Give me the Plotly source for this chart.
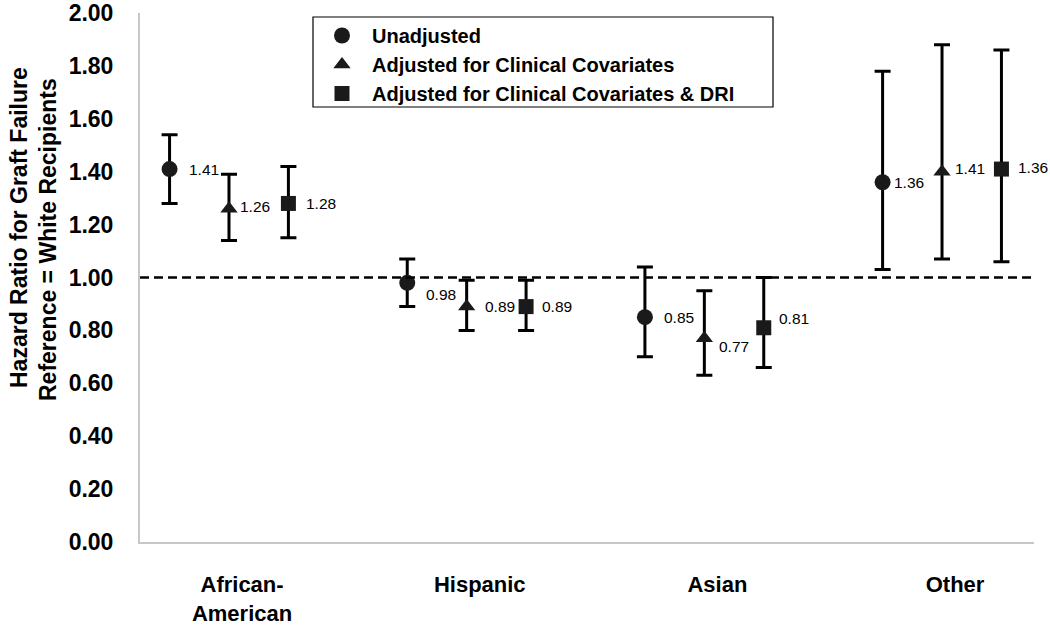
import plotly.graph_objects as go

categories = ["African-<br>American", "Hispanic", "Asian", "Other"]
series_names = ["Unadjusted", "Adjusted for Clinical Covariates", "Adjusted for Clinical Covariates & DRI"]

unadj_hr = [1.41, 0.98, 0.85, 1.36]
unadj_lo = [1.28, 0.89, 0.70, 1.03]
unadj_hi = [1.54, 1.07, 1.04, 1.78]
unadj_lab = ["1.41", "0.98", "0.85", "1.36"]

clin_hr = [1.26, 0.89, 0.77, 1.40]
clin_lo = [1.14, 0.80, 0.63, 1.07]
clin_hi = [1.39, 0.99, 0.95, 1.88]
clin_lab = ["1.26", "0.89", "0.77", "1.41"]

dri_hr = [1.28, 0.89, 0.81, 1.41]
dri_lo = [1.15, 0.80, 0.66, 1.06]
dri_hi = [1.42, 0.99, 1.00, 1.86]
dri_lab = ["1.28", "0.89", "0.81", "1.36"]

y_ticks = [0, 0.2, 0.4, 0.6, 0.8, 1.0, 1.2, 1.4, 1.6, 1.8, 2.0]
reference_hr = 1.0

# ---- styling ----
FONT = "Liberation Sans, Arial, sans-serif"
offsets = [-0.25, 0.0, 0.25]
symbols = ["circle", "triangle-up", "square"]
marker_sizes = [16, 15, 15]
label_xshift = [[19, 19, 19, 11], [11, 18, 15, 13], [18, 16, 15, 17]]
label_yshift = [[0, -12, 0, 0], [2, 0, -8, 3], [0, 0, 9, 2]]
series = [
    (unadj_hr, unadj_lo, unadj_hi, unadj_lab),
    (clin_hr, clin_lo, clin_hi, clin_lab),
    (dri_hr, dri_lo, dri_hi, dri_lab),
]

fig = go.Figure()
base_x = list(range(1, len(categories) + 1))
annotations = []
for k, (hr, lo, hi, lab) in enumerate(series):
    xs = [b + offsets[k] for b in base_x]
    fig.add_trace(go.Scatter(
        x=xs, y=hr, mode="markers", name=series_names[k],
        marker=dict(symbol=symbols[k], size=marker_sizes[k], color="#1a1a1a"),
        error_y=dict(type="data", symmetric=False,
                     array=[h - v for h, v in zip(hi, hr)],
                     arrayminus=[v - l for v, l in zip(hr, lo)],
                     color="black", thickness=3, width=8),
        cliponaxis=False, hoverinfo="skip",
    ))
    for i, (xv, yv, t) in enumerate(zip(xs, hr, lab)):
        annotations.append(dict(
            x=xv, y=yv, xref="x", yref="y", text=t, showarrow=False,
            xanchor="left", yanchor="middle",
            xshift=label_xshift[k][i] - 2, yshift=label_yshift[k][i],
            font=dict(family=FONT, size=15.5, color="black"),
        ))

# y axis title as two separately placed lines
annotations.append(dict(
    text="Hazard Ratio for Graft Failure", textangle=-90, showarrow=False,
    xref="paper", yref="paper", x=(19 - 140) / 894, y=(542 - 228) / 529,
    xanchor="center", yanchor="middle",
    font=dict(family=FONT, size=23, color="black", weight="bold")))
annotations.append(dict(
    text="Reference = White Recipients", textangle=-90, showarrow=False,
    xref="paper", yref="paper", x=(48 - 140) / 894, y=(542 - 240) / 529,
    xanchor="center", yanchor="middle",
    font=dict(family=FONT, size=23, color="black", weight="bold")))

shapes = [
    dict(type="line", xref="paper", yref="y", x0=0, x1=1,
         y0=reference_hr, y1=reference_hr,
         line=dict(color="black", width=2.5, dash="9px,5px")),
    dict(type="rect", xref="paper", yref="paper",
         x0=(313 - 140) / 894, x1=(773 - 140) / 894,
         y0=(542 - 107) / 529, y1=(542 - 17) / 529,
         line=dict(color="black", width=1.2), fillcolor="rgba(0,0,0,0)"),
]

fig.update_layout(
    width=1050, height=626,
    margin=dict(l=140, r=16, t=13, b=84),
    plot_bgcolor="white", paper_bgcolor="white",
    font=dict(family=FONT, color="black"),
    annotations=annotations, shapes=shapes,
    legend=dict(x=(312 - 140) / 894, y=(542 - 16) / 529, xanchor="left", yanchor="top",
                borderwidth=0, bgcolor="rgba(0,0,0,0)",
                font=dict(family=FONT, size=20, color="black", weight="bold"),
                tracegroupgap=0, itemwidth=50),
    xaxis=dict(range=[0.6256, 4.387], tickvals=[b + 0.055 for b in base_x],
               ticktext=categories, showgrid=False, zeroline=False,
               showline=True, linecolor="#c8c8c8", linewidth=2,
               ticks="", ticklabelstandoff=22, automargin=False,
               tickfont=dict(family=FONT, size=22, color="black", weight="bold")),
    yaxis=dict(range=[0, 2], tickvals=y_ticks,
               ticktext=[f"{v:.2f}" for v in y_ticks],
               showgrid=False, zeroline=False,
               showline=True, linecolor="#c8c8c8", linewidth=2,
               ticks="", ticklabelstandoff=20, automargin=False,
               tickfont=dict(family=FONT, size=23, color="black", weight="bold")),
)

fig.write_html("out.html", config={"displayModeBar": False},
               post_script="document.body.style.margin='0';document.body.style.overflow='hidden';")
